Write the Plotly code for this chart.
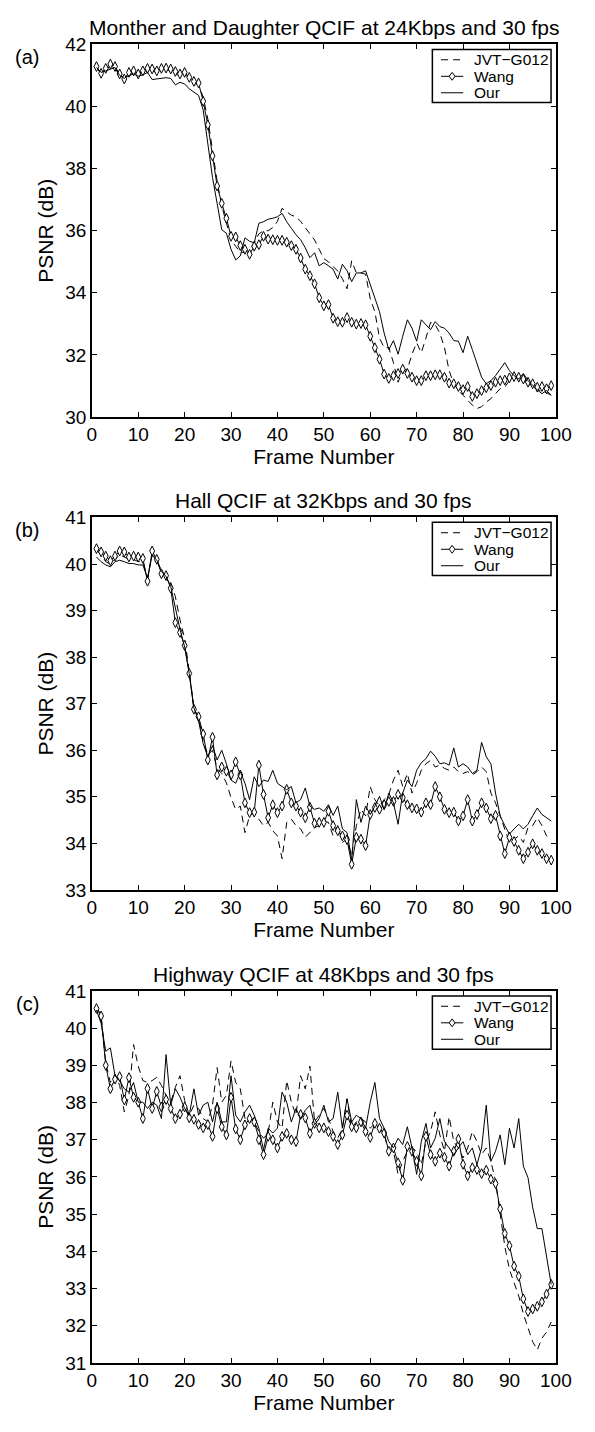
import plotly.graph_objects as go

W, H = 595, 1432
frames = list(range(1, 100))

# ---------------- Panel (a): Monther and Daughter ----------------
a_jvt = [41.25, 41.05, 41.20, 41.30, 41.25, 41.00, 40.90, 41.05, 41.10, 41.05,
         41.10, 41.20, 41.15, 41.10, 41.20, 41.20, 41.15, 41.05, 41.00, 41.05,
         40.90, 40.75, 40.70, 40.30, 39.60, 38.60, 37.60, 36.80, 36.20, 35.70,
         35.50, 35.30, 35.30, 35.40, 35.60, 35.90, 36.00, 36.00, 36.10, 36.30,
         36.72, 36.60, 36.50, 36.45, 36.30, 36.10, 35.90, 35.70, 35.40, 35.10,
         35.00, 34.85, 34.70, 34.45, 34.13, 35.03, 34.64, 34.64, 34.60, 33.81,
         33.39, 32.54, 32.23, 32.23, 31.75, 31.12, 31.49, 31.54, 32.02, 32.39,
         32.07, 32.54, 33.05, 32.97, 32.70, 32.23, 31.49, 31.07, 30.85, 30.70,
         30.54, 30.38, 30.27, 30.33, 30.48, 30.59, 30.75, 30.91, 30.96, 31.17,
         31.28, 31.22, 31.17, 31.07, 30.96, 30.91, 30.80, 30.78, 30.70]
a_wang = [41.29, 41.07, 41.23, 41.37, 41.29, 41.05, 40.89, 41.10, 41.15, 41.05,
          41.15, 41.23, 41.21, 41.15, 41.23, 41.24, 41.21, 41.13, 41.05, 41.10,
          40.94, 40.81, 40.76, 40.17, 39.41, 38.41, 37.44, 36.88, 36.40, 35.82,
          35.80, 35.52, 35.40, 35.24, 35.50, 35.55, 35.82, 35.73, 35.71, 35.69,
          35.69, 35.63, 35.52, 35.40, 35.12, 34.76, 34.55, 34.29, 33.84, 33.58,
          33.62, 33.18, 33.07, 33.05, 33.20, 33.05, 32.99, 33.01, 32.97, 32.60,
          32.23, 31.86, 31.38, 31.24, 31.33, 31.40, 31.54, 31.40, 31.28, 31.17,
          31.17, 31.33, 31.33, 31.36, 31.36, 31.28, 31.09, 31.07, 30.98, 30.88,
          30.98, 30.66, 30.75, 30.85, 30.94, 31.01, 31.12, 31.17, 31.19, 31.26,
          31.30, 31.28, 31.22, 31.12, 31.07, 30.96, 30.98, 30.91, 31.01]
a_our = [41.26, 41.10, 41.15, 41.21, 41.26, 41.00, 40.91, 41.00, 41.05, 40.98,
         41.02, 41.10, 40.87, 40.89, 40.91, 40.93, 40.91, 40.70, 40.78, 40.73,
         40.57, 40.47, 40.36, 39.89, 38.78, 37.72, 36.88, 36.03, 35.92, 35.40,
         35.06, 35.19, 35.77, 35.66, 35.61, 36.24, 36.29, 36.37, 36.40, 36.45,
         36.56, 36.29, 36.08, 35.87, 35.71, 35.45, 35.13, 35.29, 34.87, 34.97,
         34.87, 34.76, 34.44, 34.92, 34.71, 34.36, 34.64, 34.64, 34.71, 34.29,
         33.81, 33.39, 32.70, 32.17, 32.46, 32.02, 32.60, 33.13, 32.86, 32.44,
         33.13, 32.97, 32.81, 33.07, 32.91, 32.86, 32.70, 32.46, 32.44, 32.07,
         32.60, 32.17, 31.70, 31.28, 31.07, 31.17, 31.33, 31.54, 31.75, 31.49,
         31.33, 31.22, 31.40, 31.17, 31.01, 30.87, 30.75, 30.85, 30.70]

# ---------------- Panel (b): Hall ----------------
b_jvt = [40.30, 40.20, 40.05, 40.00, 40.10, 40.20, 40.15, 40.10, 40.10, 40.05,
         40.05, 39.70, 40.20, 40.10, 39.85, 39.75, 39.60, 39.30, 38.80, 38.40,
         37.70, 36.90, 36.70, 36.20, 35.90, 36.00, 35.60, 35.50, 35.30, 34.98,
         34.73, 34.80, 34.23, 34.59, 34.66, 34.52, 34.38, 34.45, 34.27, 34.16,
         33.67, 34.45, 34.52, 34.38, 34.31, 34.13, 34.23, 34.34, 34.38, 34.48,
         34.45, 34.16, 34.38, 34.02, 34.09, 33.74, 34.38, 34.73, 34.59, 35.22,
         34.94, 34.80, 34.94, 35.05, 35.36, 35.57, 35.22, 35.50, 35.08, 35.29,
         35.57, 35.71, 35.78, 35.64, 35.68, 35.61, 35.57, 35.64, 35.54, 35.50,
         35.54, 35.47, 35.54, 35.64, 35.54, 35.08, 34.87, 34.59, 34.27, 34.02,
         34.09, 34.16, 34.02, 34.34, 34.38, 34.55, 34.38, 34.16, 34.09]
b_wang = [40.33, 40.26, 40.17, 40.07, 40.17, 40.28, 40.26, 40.15, 40.17, 40.15,
          40.12, 39.63, 40.28, 40.10, 39.79, 39.75, 39.48, 38.74, 38.53, 38.25,
          37.65, 36.88, 36.72, 36.35, 35.79, 36.28, 35.47, 35.64, 35.55, 35.47,
          35.75, 35.47, 34.87, 34.66, 34.67, 35.68, 35.05, 34.55, 34.83, 34.66,
          34.80, 35.16, 34.87, 34.80, 34.67, 34.55, 34.78, 34.43, 34.45, 34.45,
          34.69, 34.38, 34.27, 34.16, 34.08, 33.55, 34.13, 34.09, 33.95, 34.62,
          34.77, 34.73, 34.83, 34.90, 34.90, 35.05, 34.98, 34.83, 34.76, 34.74,
          34.67, 34.87, 34.83, 35.22, 35.00, 34.73, 34.66, 34.67, 34.48, 34.59,
          34.94, 34.48, 34.62, 34.87, 34.76, 34.53, 34.60, 34.16, 33.78, 34.13,
          34.04, 33.85, 33.67, 33.81, 33.99, 33.85, 33.78, 33.67, 33.64]
b_our = [40.15, 40.05, 39.98, 39.94, 40.05, 40.08, 40.05, 40.01, 40.01, 39.98,
         39.98, 39.70, 40.19, 40.08, 39.84, 39.73, 39.52, 39.03, 38.60, 38.22,
         37.65, 36.91, 36.63, 36.14, 35.86, 36.10, 35.79, 36.00, 35.71, 35.36,
         35.29, 35.54, 35.29, 34.94, 35.43, 35.22, 35.36, 35.33, 35.57, 35.29,
         35.22, 35.15, 35.22, 34.87, 34.94, 35.19, 34.80, 34.73, 34.76, 34.69,
         34.83, 34.60, 34.80, 34.31, 34.23, 33.64, 34.94, 34.45, 34.80, 34.62,
         34.80, 35.01, 34.73, 35.08, 34.87, 34.41, 35.08, 35.36, 35.22, 35.57,
         35.73, 35.82, 35.98, 35.87, 35.71, 35.73, 35.68, 36.05, 35.64, 35.71,
         35.64, 35.50, 35.57, 36.17, 35.86, 35.71, 35.08, 34.59, 34.38, 34.20,
         34.31, 34.41, 34.31, 34.41, 34.59, 34.76, 34.62, 34.55, 34.48]

# ---------------- Panel (c): Highway ----------------
c_jvt = [40.57, 40.35, 39.07, 38.54, 38.76, 38.46, 37.75, 38.19, 39.56, 38.98,
         38.59, 38.54, 38.59, 38.68, 38.46, 38.19, 38.01, 38.41, 38.72, 38.06,
         37.66, 37.93, 37.84, 37.57, 37.48, 37.93, 38.94, 38.01, 38.19, 39.12,
         38.54, 38.37, 37.57, 37.66, 37.48, 37.22, 37.04, 37.18, 38.01, 37.48,
         37.31, 38.59, 38.01, 37.66, 38.72, 38.37, 38.98, 37.48, 37.66, 37.84,
         37.57, 37.22, 37.04, 37.31, 38.10, 37.31, 37.48, 37.57, 37.48, 37.31,
         37.44, 37.31, 37.13, 36.69, 36.69, 36.07, 36.42, 36.69, 36.78, 36.69,
         36.33, 36.95, 37.22, 37.75, 37.13, 36.69, 37.62, 36.95, 36.78, 36.51,
         36.78, 37.22, 36.95, 36.60, 36.78, 36.42, 35.89, 35.01, 34.13, 33.51,
         33.16, 32.80, 32.32, 31.92, 31.57, 31.35, 31.66, 31.83, 32.10]
c_wang = [40.53, 40.33, 39.00, 38.37, 38.63, 38.70, 38.07, 38.67, 38.14, 38.01,
          37.57, 38.38, 37.84, 38.30, 37.88, 38.08, 37.84, 37.57, 37.69, 37.88,
          37.59, 37.55, 37.41, 37.32, 37.41, 37.09, 37.84, 37.35, 37.13, 38.14,
          37.29, 37.00, 37.40, 37.57, 37.48, 37.00, 36.60, 37.09, 37.00, 36.78,
          37.09, 37.17, 37.00, 36.95, 37.68, 37.59, 37.17, 37.44, 37.32, 37.32,
          37.22, 37.09, 36.87, 37.13, 37.66, 37.35, 37.32, 37.48, 37.22, 37.06,
          37.44, 37.31, 37.18, 36.69, 36.78, 36.38, 35.91, 36.82, 36.69, 36.42,
          36.03, 37.09, 36.60, 36.42, 36.64, 36.53, 36.29, 36.69, 37.02, 36.34,
          36.03, 36.25, 36.20, 36.09, 36.18, 35.94, 35.82, 35.14, 34.48, 34.15,
          33.60, 33.33, 32.72, 32.38, 32.45, 32.52, 32.64, 32.85, 33.11]
c_our = [40.49, 40.13, 39.38, 39.47, 38.72, 38.59, 38.37, 38.28, 38.54, 38.01,
         38.01, 37.84, 38.01, 37.93, 37.57, 39.29, 37.93, 38.37, 38.15, 37.84,
         37.66, 38.37, 37.66, 37.93, 38.01, 37.48, 38.01, 37.48, 37.48, 38.72,
         37.66, 37.48, 37.75, 37.93, 37.66, 37.31, 36.73, 37.31, 37.18, 37.31,
         38.28, 38.01, 37.48, 37.84, 37.57, 37.79, 37.93, 37.40, 37.57, 37.93,
         37.48, 37.57, 38.28, 37.31, 38.10, 37.48, 37.66, 37.57, 37.31, 38.01,
         38.54, 37.57, 37.31, 36.95, 36.78, 37.04, 36.87, 37.35, 36.78, 36.07,
         36.95, 37.44, 36.78, 37.04, 37.57, 36.95, 36.78, 36.60, 36.78, 36.95,
         36.60, 36.78, 36.33, 36.78, 37.93, 36.42, 36.69, 37.13, 36.33, 37.31,
         36.78, 37.57, 36.29, 35.98, 35.19, 34.61, 34.61, 33.86, 33.11]

x_ticks = list(range(0, 101, 10))
titles = ["Monther and Daughter QCIF at 24Kbps and 30 fps",
          "Hall QCIF at 32Kbps and 30 fps",
          "Highway QCIF at 48Kbps and 30 fps"]
panel_labels = ["(a)", "(b)", "(c)"]
y_ranges = [(30, 42), (33, 41), (31, 41)]
y_dticks = [2, 1, 1]
series_names = ["JVT\u2212G012", "Wang", "Our"]
panels = [(a_jvt, a_wang, a_our), (b_jvt, b_wang, b_our), (c_jvt, c_wang, c_our)]

# layout geometry in pixels
X0, X1 = 90, 571
panel_px = [(35, 413), (515, 893), (995.6, 1373)]

FONT = "Liberation Sans, Arial, Helvetica, sans-serif"
DASH = "7px,5px"


def px_x(p):
    return p / W


def px_y(p):
    return 1 - p / H


fig = go.Figure()

for i, (jvt, wang, our) in enumerate(panels):
    xa = "x" if i == 0 else f"x{i+1}"
    ya = "y" if i == 0 else f"y{i+1}"
    fig.add_trace(go.Scatter(x=frames, y=jvt, name=series_names[0], mode="lines",
                             line=dict(color="black", width=1, dash=DASH),
                             xaxis=xa, yaxis=ya, showlegend=False))
    fig.add_trace(go.Scatter(x=frames, y=wang, name=series_names[1], mode="lines+markers",
                             line=dict(color="black", width=1),
                             marker=dict(symbol="diamond-tall", size=7, color="white",
                                         line=dict(color="black", width=1)),
                             xaxis=xa, yaxis=ya, showlegend=False))
    fig.add_trace(go.Scatter(x=frames, y=our, name=series_names[2], mode="lines",
                             line=dict(color="black", width=1),
                             xaxis=xa, yaxis=ya, showlegend=False))

axis_common = dict(showline=True, linecolor="black", linewidth=1.5, mirror="ticks",
                   ticks="inside", ticklen=5, tickwidth=1, tickcolor="black",
                   showgrid=False, zeroline=False,
                   tickfont=dict(family=FONT, size=19, color="black"))

layout = dict(width=W, height=H, margin=dict(l=0, r=0, t=0, b=0),
              paper_bgcolor="white", plot_bgcolor="white", showlegend=False,
              font=dict(family=FONT, color="black"), annotations=[], shapes=[])

for i in range(3):
    top, bot = panel_px[i]
    xk = "xaxis" if i == 0 else f"xaxis{i+1}"
    yk = "yaxis" if i == 0 else f"yaxis{i+1}"
    ya = "y" if i == 0 else f"y{i+1}"
    xa = "x" if i == 0 else f"x{i+1}"
    layout[xk] = dict(axis_common, domain=[px_x(X0), px_x(X1)], range=[0, 100],
                      tickvals=x_ticks, anchor=ya,
                      title=dict(text="Frame Number", font=dict(size=21, family=FONT),
                                 standoff=5))
    layout[yk] = dict(axis_common, domain=[px_y(bot), px_y(top)],
                      range=list(y_ranges[i]), dtick=y_dticks[i], tick0=0, anchor=xa,
                      title=dict(text="PSNR (dB)", font=dict(size=21, family=FONT),
                                 standoff=6))
    # panel title and label
    layout["annotations"].append(dict(text=titles[i], x=px_x((X0 + X1) / 2), y=px_y(top - 17),
                                      xref="paper", yref="paper", showarrow=False,
                                      xanchor="center", yanchor="middle",
                                      font=dict(size=21, family=FONT)))
    layout["annotations"].append(dict(text=panel_labels[i], x=px_x(23), y=px_y(top + 13),
                                      xref="paper", yref="paper", showarrow=False,
                                      xanchor="center", yanchor="middle",
                                      font=dict(size=20, family=FONT)))
    # legend box (drawn manually to match the compact row spacing)
    lx0, lx1 = 443, 566
    ly0, ly1 = top + 5, top + 59
    layout["shapes"].append(dict(type="rect", xref="paper", yref="paper",
                                 x0=px_x(lx0), x1=px_x(lx1), y0=px_y(ly1), y1=px_y(ly0),
                                 line=dict(color="black", width=1.5), fillcolor="white",
                                 layer="above"))
    rows = [top + 15.5, top + 32.3, top + 49]
    styles = ["dash", "marker", "solid"]
    for r, (ry, st, name) in enumerate(zip(rows, styles, series_names)):
        layout["shapes"].append(dict(type="line", xref="paper", yref="paper",
                                     x0=px_x(452), x1=px_x(475), y0=px_y(ry), y1=px_y(ry),
                                     line=dict(color="black", width=1,
                                               dash=DASH if st == "dash" else "solid"),
                                     layer="above"))
        if st == "marker":
            cx = 463.5
            path = (f"M {px_x(cx)},{px_y(ry - 4)} L {px_x(cx + 3)},{px_y(ry)} "
                    f"L {px_x(cx)},{px_y(ry + 4)} L {px_x(cx - 3)},{px_y(ry)} Z")
            layout["shapes"].append(dict(type="path", xref="paper", yref="paper", path=path,
                                         line=dict(color="black", width=1), fillcolor="white",
                                         layer="above"))
        layout["annotations"].append(dict(text=name, x=px_x(484), y=px_y(ry),
                                          xref="paper", yref="paper", showarrow=False,
                                          xanchor="left", yanchor="middle",
                                          font=dict(size=15.5, family=FONT)))

fig.update_layout(**layout)
fig.write_html("out.html", config={"displayModeBar": False},
               post_script="document.body.style.margin='0';")
